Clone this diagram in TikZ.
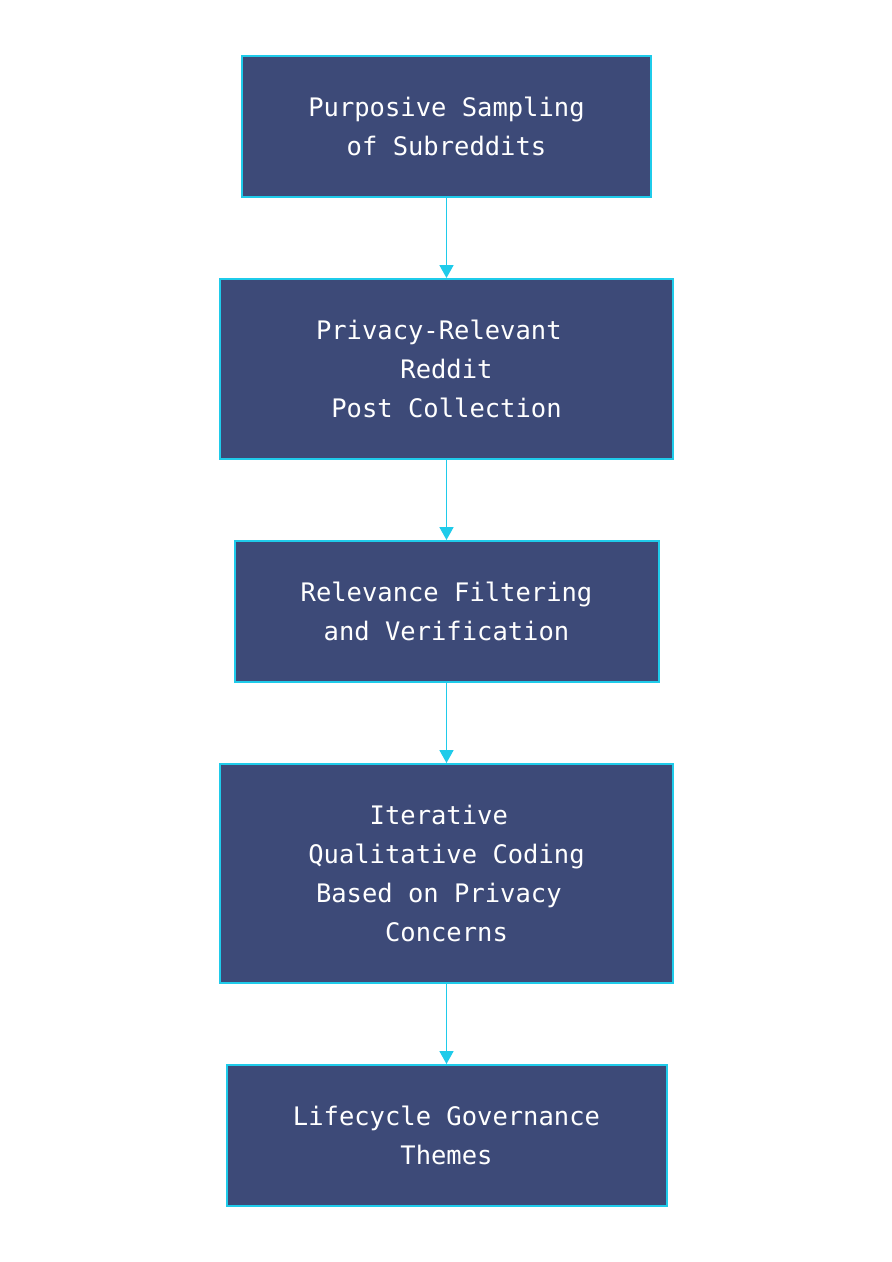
\documentclass[tikz,border=0pt]{standalone}
\usepackage{fontspec}
\setmonofont{DejaVu Sans Mono}
\usetikzlibrary{arrows.meta}
\definecolor{boxfill}{HTML}{3D4A78}
\definecolor{boxline}{HTML}{1FCBEA}
\tikzset{
  stepbox/.style={rectangle, draw=boxline, line width=2pt, fill=boxfill,
    text=white, inner sep=0pt, align=center,
    font=\ttfamily\fontsize{25.5}{39}\selectfont},
  flow/.style={draw=boxline, line width=1.8pt,
    -{Triangle[width=14pt,length=13pt]}}
}
\newcommand{\pad}{\hphantom{x}}
\begin{document}
\begin{tikzpicture}[x=1pt,y=-1pt]
\useasboundingbox (0,0) rectangle (892,1262);
\fill[white] (0,0) rectangle (892,1262);
\node[stepbox, minimum width=409pt, minimum height=141pt] (a) at (446.5,126.5)
  {Purposive Sampling\\of Subreddits};
\node[stepbox, minimum width=453pt, minimum height=180pt] (b) at (446.5,369)
  {Privacy-Relevant\pad\\Reddit\\Post Collection};
\node[stepbox, minimum width=424pt, minimum height=141pt] (c) at (446.5,611.5)
  {Relevance Filtering\\and Verification};
\node[stepbox, minimum width=453pt, minimum height=219pt] (d) at (446.5,873.5)
  {Iterative\pad\\Qualitative Coding\\Based on Privacy\pad\\Concerns};
\node[stepbox, minimum width=440pt, minimum height=141pt] (e) at (446.5,1135.5)
  {Lifecycle Governance\\Themes};
\draw[flow] (a.south) -- (b.north);
\draw[flow] (b.south) -- (c.north);
\draw[flow] (c.south) -- (d.north);
\draw[flow] (d.south) -- (e.north);
\end{tikzpicture}
\end{document}
